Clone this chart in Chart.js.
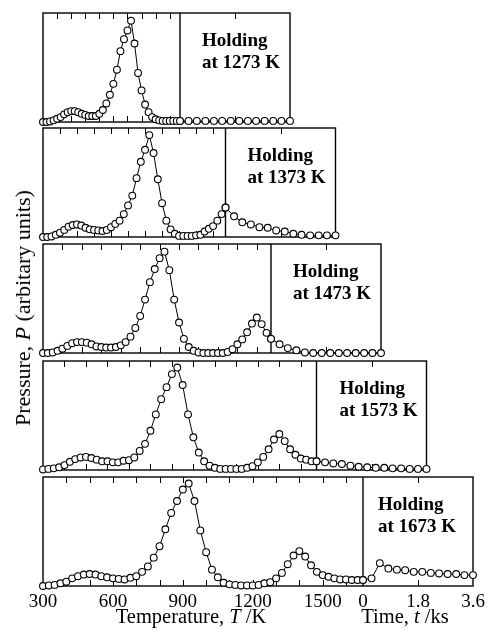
<!DOCTYPE html>
<html>
<head>
<meta charset="utf-8">
<script src="https://cdn.jsdelivr.net/npm/chart.js@4.4.1/dist/chart.umd.min.js"></script>
<style>
  html, body { margin: 0; padding: 0; background: #fff; }
  #fig { position: relative; width: 491px; height: 632px; overflow: hidden;
         font-family: "Liberation Serif", "Times New Roman", serif; color: #000; }
  #fig canvas { position: absolute; left: 0; }
  .title { position: absolute; white-space: nowrap; line-height: 1; }
  #titleT { left: 191px; top: 606px; font-size: 20.5px; transform: translateX(-50%); }
  #titleTime { left: 405px; top: 606px; font-size: 20.5px; transform: translateX(-50%); }
  #titleP { left: 23px; top: 308px; font-size: 22px; transform: translate(-50%, -50%) rotate(-90deg); }
</style>
</head>
<body>
<div id="fig">
  <canvas id="c0"></canvas>
  <canvas id="c1"></canvas>
  <canvas id="c2"></canvas>
  <canvas id="c3"></canvas>
  <canvas id="c4"></canvas>
  <div class="title" id="titleT">Temperature, <i>T</i> /K</div>
  <div class="title" id="titleTime">Time, <i>t</i> /ks</div>
  <div class="title" id="titleP">Pressure, <i>P</i> (arbitary units)</div>
</div>
<script>
// Holding temperatures (K), one panel each, top to bottom
const HOLD_TEMPS = [1273, 1373, 1473, 1573, 1673];

// Heating-stage temperatures (K); each run uses the steps below its holding temperature, then the holding temperature itself
const TEMP_STEPS = [300, 325, 350, 375, 400, 425, 450, 475, 500, 525, 550, 575, 600, 625, 650,
  675, 700, 725, 750, 775, 800, 825, 850, 875, 900, 925, 950, 975, 1000, 1025, 1050, 1075,
  1100, 1125, 1150, 1175, 1200, 1225, 1250, 1275, 1300, 1325, 1350, 1375, 1400, 1425, 1450,
  1475, 1500, 1525, 1550, 1575, 1600, 1625, 1650];

// Holding-stage times (ks)
const HOLD_TIMES = [0, 0.28, 0.55, 0.83, 1.11, 1.38, 1.66, 1.94, 2.22, 2.49, 2.77, 3.05, 3.32, 3.6];

// Pressure during heating (arbitrary units, 0-100 per panel)
const HEAT_1273 = [0, 0, 0.5, 1.5, 3, 4.5, 7, 9, 10, 10, 9, 7.5, 6.5, 5.5, 5.5, 5.5, 7.5, 11, 17, 25,
  35, 48, 65, 76, 84, 93, 72, 45, 29, 16, 9, 4.5, 2.5, 1.5, 1, 1, 1, 1, 1, 1];
const HEAT_1373 = [0, 0, 0.5, 2, 4, 6.5, 9.5, 11, 11.5, 10.5, 8.5, 7, 6.5, 6, 5.5, 6.5, 9, 12, 15, 21,
  29, 38, 54, 69, 80, 93.5, 77, 53, 31, 15, 7, 3, 1, 1, 1, 1, 1.5, 2, 5, 7.5, 10, 15, 21, 27];
const HEAT_1473 = [0, 0, 0.5, 2, 4, 6.5, 9, 10, 10, 9.5, 8, 6, 5.5, 5, 5, 5.5, 7, 10, 15, 23,
  34, 49, 65, 77, 87, 93, 76, 49, 28, 13, 5.5, 2, 0.5, 0, 0, 0, 0, 0, 1, 3.5,
  8, 12.5, 19, 27, 32.5, 26.5, 18.5, 13];
const HEAT_1573 = [0.5, 1, 1.5, 2.5, 4.5, 7.5, 10, 11.5, 12, 11, 9.5, 8, 8, 7, 7, 8.5, 9, 11.5, 17.5, 24,
  36, 51, 65, 76, 88, 94, 78, 51, 30, 16, 8, 4, 2, 1, 1, 1, 1, 1, 2, 3.5,
  7, 12, 19, 28, 33, 26.5, 19, 14, 10.5, 9.5, 8, 8];
const HEAT_1673 = [0, 0.5, 1, 2.5, 4, 7, 9, 10.5, 11, 10.5, 9, 8, 7, 6.5, 6, 7.5, 9, 13, 18, 26,
  36.5, 52, 67, 78, 88.5, 94, 78, 51, 31, 15, 8, 3, 1.5, 1, 0.5, 0.5, 0.5, 1, 2.5, 3.5,
  7, 12, 20, 28, 32, 27, 19, 13, 10, 8.5, 7, 6, 6, 5.5, 5.5, 5.5];

// Pressure during holding (arbitrary units)
const HOLD_1273 = [1, 1, 1, 1, 1, 1, 1, 1, 1, 1, 1, 1, 1, 1];
const HOLD_1373 = [27, 19, 13.5, 11.5, 9, 8.5, 6, 5, 3, 2, 1.5, 1.5, 1.5, 1.5];
const HOLD_1473 = [13, 8, 4.5, 2.5, 0.5, 0, 0, 0, 0, 0, 0, 0, 0, 0];
const HOLD_1573 = [8, 7, 6, 5.5, 4, 3, 2.5, 2, 2, 1.5, 1.5, 1, 1, 1];
const HOLD_1673 = [5.5, 7, 21, 16, 15, 14.5, 13, 13, 12, 11.5, 11, 11, 10, 10];

const HEAT_SERIES = [HEAT_1273, HEAT_1373, HEAT_1473, HEAT_1573, HEAT_1673];
const HOLD_SERIES = [HOLD_1273, HOLD_1373, HOLD_1473, HOLD_1573, HOLD_1673];

// Axis tick marks and labels
const TEMP_TICKS = [400, 500, 600, 700, 800, 900, 1000, 1100, 1200, 1300, 1400, 1500, 1600];
const TIME_TICKS = [1.8];
const TEMP_LABELS = [300, 600, 900, 1200, 1500];
const TIME_LABELS = ['0', '1.8', '3.6'];

// Panel geometry (px)
const FIG_W = 491, FIG_H = 632;
const LEFT = 43, TIME_W = 110, PANEL_H = 109, PAD = 8;
const PANEL_TOP = [13, 128, 244, 361, 477];
const DIVIDER_X = [180, 225.5, 271, 316.5, 363];
const NOTE_DX = [22, 22, 22, 23, 15];

const SERIF = '"Liberation Serif", "Times New Roman", serif';

const framePlugin = {
  id: 'frame',
  beforeDatasetsDraw(chart, args, o) {
    const { ctx, chartArea: a, scales } = chart;
    const xT = scales.xT, xt = scales.xt;
    const xd = xT.getPixelForValue(o.hold);
    ctx.save();
    ctx.strokeStyle = '#000';
    ctx.lineWidth = 1.4;
    ctx.strokeRect(a.left, a.top, a.right - a.left, a.bottom - a.top);
    ctx.beginPath();
    ctx.moveTo(xd, a.top);
    ctx.lineTo(xd, a.bottom);
    ctx.stroke();
    ctx.lineWidth = 1;
    ctx.beginPath();
    const tick = (x) => {
      x = Math.round(x) + 0.5;
      ctx.moveTo(x, a.top); ctx.lineTo(x, a.top + 6);
      ctx.moveTo(x, a.bottom); ctx.lineTo(x, a.bottom - 6);
    };
    TEMP_TICKS.filter(t => t < o.hold).forEach(t => tick(xT.getPixelForValue(t)));
    TIME_TICKS.forEach(t => tick(xt.getPixelForValue(t)));
    ctx.stroke();
    ctx.restore();
  },
  afterDraw(chart, args, o) {
    const { ctx, chartArea: a, scales } = chart;
    const xT = scales.xT, xt = scales.xt;
    const xd = xT.getPixelForValue(o.hold);
    ctx.save();
    ctx.fillStyle = '#000';
    ctx.textAlign = 'left';
    ctx.textBaseline = 'alphabetic';
    ctx.font = 'bold 19px ' + SERIF;
    ctx.fillText('Holding', xd + o.noteDx, a.top + 33);
    ctx.fillText('at ' + o.hold + ' K', xd + o.noteDx, a.top + 55);
    if (o.labels) {
      ctx.font = '19px ' + SERIF;
      ctx.textAlign = 'center';
      TEMP_LABELS.forEach(t => ctx.fillText(String(t), xT.getPixelForValue(t), a.bottom + 21));
      TIME_LABELS.forEach(t => ctx.fillText(t, xt.getPixelForValue(parseFloat(t)), a.bottom + 21));
    }
    ctx.restore();
  }
};

function lineStyle() {
  return {
    borderColor: '#000', borderWidth: 1,
    pointRadius: 3.4, pointBorderWidth: 1.1,
    pointBackgroundColor: '#fff', pointBorderColor: '#000',
    tension: 0, fill: false, clip: false
  };
}

HOLD_TEMPS.forEach((hold, i) => {
  const canvas = document.getElementById('c' + i);
  const last = i === HOLD_TEMPS.length - 1;
  const top = PANEL_TOP[i] - PAD;
  const h = last ? FIG_H - top : PANEL_H + 2 * PAD;
  canvas.width = FIG_W;
  canvas.height = h;
  canvas.style.top = top + 'px';
  canvas.style.width = FIG_W + 'px';
  canvas.style.height = h + 'px';

  const right = DIVIDER_X[i] + TIME_W;
  const wT = DIVIDER_X[i] - LEFT;
  // both x scales span the whole panel; the temperature part ends at the divider where time 0 begins
  const tempMax = 300 + (hold - 300) * (wT + TIME_W) / wT;
  const timeMin = -3.6 * wT / TIME_W;

  const temps = TEMP_STEPS.filter(t => t < hold).concat([hold]);
  const heat = HEAT_SERIES[i];
  const holdVals = HOLD_SERIES[i];

  new Chart(canvas, {
    type: 'line',
    data: {
      datasets: [
        Object.assign({ label: 'heating', xAxisID: 'xT', yAxisID: 'y',
          data: temps.map((t, k) => ({ x: t, y: heat[k] })) }, lineStyle()),
        Object.assign({ label: 'holding', xAxisID: 'xt', yAxisID: 'y',
          data: HOLD_TIMES.map((t, k) => ({ x: t, y: holdVals[k] })) }, lineStyle())
      ]
    },
    options: {
      responsive: false,
      animation: false,
      events: [],
      layout: { padding: { left: LEFT, right: FIG_W - right, top: PAD, bottom: h - PAD - PANEL_H } },
      scales: {
        xT: { type: 'linear', axis: 'x', min: 300, max: tempMax, display: false },
        xt: { type: 'linear', axis: 'x', min: timeMin, max: 3.6, display: false },
        y: { type: 'linear', min: 0, max: 100, display: false }
      },
      plugins: {
        legend: { display: false },
        tooltip: { enabled: false },
        frame: { hold: hold, noteDx: NOTE_DX[i], labels: last }
      }
    },
    plugins: [framePlugin]
  });
});
</script>
</body>
</html>
